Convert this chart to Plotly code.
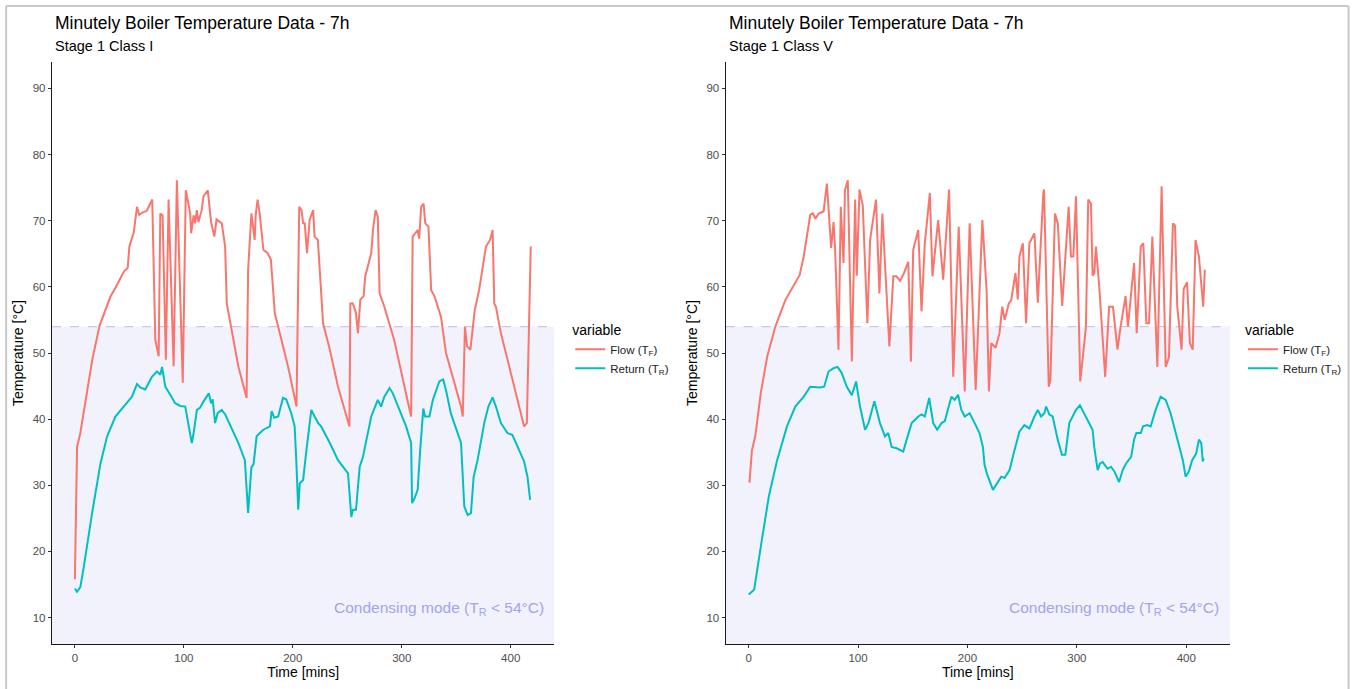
import plotly.graph_objects as go

# ---------------- data ----------------
# Panel 1: Stage 1 Class I
t_flow_1 = [0, 2, 5, 10, 16, 22.6, 32.6, 37, 45, 48.5, 50, 54, 57, 59, 61.6, 66, 71, 73.8, 76.9, 78.4, 80.5, 83.5, 86, 90.6, 93.6, 99, 101.8, 105.8, 106.7, 109, 110.4, 111.9, 113.4, 116.4, 118, 122, 124, 125, 128, 130, 134.8, 137.9, 139.4, 150, 157.6, 159, 162, 165, 166, 167.7, 169.6, 173, 176.9, 179.9, 183.5, 189.7, 195.6, 203.4, 205.9, 208, 209.5, 211, 213, 215.5, 218.7, 220, 223, 227.8, 234, 241.5, 252, 252.8, 255.2, 258, 259.8, 262, 265, 266.5, 272, 273.6, 276, 278, 279.7, 284, 293, 308.6, 310, 314.6, 316, 317.8, 320, 321.6, 324.5, 327, 330, 336, 340.6, 354.4, 356, 358, 360, 363, 365, 367, 371, 377.3, 381, 383.4, 384.9, 386.4, 391, 400, 412.3, 414.8, 416.9, 418.4]
flow_1 = [15.8, 35.8, 37.9, 42.9, 49, 54.1, 58.5, 59.8, 62.3, 62.9, 66.1, 68.2, 72.1, 70.9, 71.2, 71.5, 73.2, 52, 49.5, 71.1, 70.8, 49, 73.2, 48, 76.1, 45.5, 74.6, 71.1, 68.1, 70.8, 69.6, 71.6, 69.8, 71.6, 73.7, 74.6, 71.1, 69.8, 67.6, 70.2, 69.6, 66.1, 57.5, 48, 43.2, 62.6, 71.1, 67.1, 71, 73.2, 71.1, 65.6, 65.1, 64.1, 56, 52, 48, 41.9, 72.1, 71.6, 69.6, 69.6, 65.1, 70.2, 71.6, 67.6, 67.1, 54.5, 50.5, 44.9, 38.9, 57.5, 57.5, 56, 53, 58.1, 58.6, 61.6, 65.1, 68.6, 71.6, 70.6, 59, 57, 52, 40.4, 67.6, 68.6, 67.3, 72.1, 72.6, 69.6, 69.1, 59.5, 58.6, 55.5, 50, 41.9, 40.4, 54, 51, 50.5, 53.5, 56.5, 59.5, 66.1, 67.1, 68.6, 57.5, 57, 53, 47, 38.9, 39.4, 58, 66.1]

t_return_1 = [0, 2, 5, 8.2, 15.8, 23.5, 29.6, 37.2, 44.8, 52.4, 57, 60, 64.6, 70.7, 75.3, 78.4, 80, 83, 87.5, 92, 96.7, 101.3, 107.3, 109, 112, 114.8, 117.4, 121, 122.9, 125, 126.5, 128.7, 131, 134.8, 138, 150, 156, 159, 162, 164, 166.8, 169.8, 173, 179, 180.6, 183, 186.6, 191, 194, 198.6, 201.7, 203.2, 205, 206.4, 209.5, 212.5, 217, 220, 223.3, 226, 234, 241.5, 250.7, 253.7, 255.2, 258, 261.4, 264.4, 267.5, 272, 278, 281, 284, 288.8, 291.8, 299.4, 304, 308.6, 309.5, 311.6, 314.6, 317.1, 319.8, 321.4, 325.4, 328.5, 334.5, 338, 340.6, 345, 354.4, 357.4, 360.5, 363.5, 366, 369.6, 375.7, 379.5, 383.4, 386.4, 391, 397, 401.6, 407.7, 412.3, 415.4, 417.8]
return_1 = [14.4, 13.9, 14.6, 17.7, 25.8, 33.3, 37.4, 40.4, 41.9, 43.4, 45.3, 44.8, 44.5, 46.4, 47.2, 46.7, 47.9, 44.9, 43.7, 42.4, 42, 41.9, 36.4, 37.9, 41.4, 41.7, 42.5, 43.4, 43.9, 42.4, 43, 39.4, 40.9, 41.4, 40.7, 36.4, 33.8, 25.8, 32.7, 33.2, 37.4, 37.9, 38.4, 38.9, 41.2, 40.2, 40.4, 43.2, 43, 40.9, 38.9, 33.8, 26.3, 30.3, 30.8, 35.3, 41.4, 40.4, 39.4, 38.9, 36.4, 33.8, 31.8, 25.2, 26.3, 26.3, 32.8, 34.3, 36.9, 40.4, 42.9, 41.9, 43.4, 44.7, 43.9, 40.9, 38.9, 36.4, 27.3, 28, 29.3, 35.8, 41.6, 40.4, 40.4, 42.9, 45.7, 46, 44.4, 40.9, 36.4, 26.8, 25.5, 25.8, 31.3, 33.8, 39.4, 41.9, 43.3, 41.9, 39.4, 37.9, 37.6, 35.3, 33.6, 31.3, 27.8]

# Panel 2: Stage 1 Class V
t_flow_2 = [0.7, 3, 6, 11, 17, 24.4, 33.5, 39.6, 46.6, 50.3, 56.3, 58.7, 61, 64, 68.5, 71.5, 75.4, 77.6, 79, 82.1, 84.2, 86.7, 88, 90.6, 94.3, 97.3, 98.8, 101.3, 104.3, 108.5, 111, 116.4, 119.5, 122.2, 124.5, 128.6, 132.2, 135, 138.5, 142, 145.9, 148.3, 150.4, 155, 158, 161, 165.6, 168, 173.2, 177.8, 183.2, 187, 192, 197.5, 202, 207.5, 213.6, 217.5, 219.6, 221.8, 225.7, 229.3, 231.8, 234, 237.8, 240, 243.9, 246, 247.5, 250.6, 253.6, 256.6, 261.2, 264.3, 269.4, 270, 274.3, 275.8, 280, 282.6, 286.6, 292.5, 294.6, 296.8, 299.2, 303.1, 306.8, 308.3, 310.4, 312.9, 314.4, 316, 317.4, 320.4, 325.9, 329.5, 333, 337.1, 340, 344.5, 346.7, 352.3, 354.7, 358.4, 360.8, 363.5, 366, 369, 373.6, 377.5, 381.2, 384.2, 387.8, 389.7, 391.8, 395.7, 397.7, 400.8, 403.3, 405.9, 408.5, 411.6, 415.5, 417]
flow_2 = [30.4, 35.3, 37.4, 43.9, 49.5, 54, 58, 59.8, 61.8, 64.6, 70.9, 71.1, 70.3, 71.1, 71.4, 75.6, 65.9, 69.8, 65.7, 50.5, 72.1, 63.6, 74.6, 76.1, 48.7, 73.2, 61.7, 74.7, 72.3, 54.5, 67.1, 73.2, 59, 71.1, 63.1, 51, 61.6, 61.6, 60.9, 62.1, 63.8, 48.7, 65.6, 68.6, 56.3, 66.6, 74.2, 61.6, 70.1, 61.1, 74.7, 46.4, 69.1, 44.2, 69.6, 44.4, 70.1, 59.5, 44.2, 51.5, 50.8, 53, 57, 55, 57.5, 58, 62.1, 58.1, 64.6, 66.6, 54.5, 66.6, 68.1, 57.6, 74.4, 74.7, 44.9, 45.9, 71.1, 69.6, 57.1, 72.1, 64.6, 64.6, 73.7, 45.7, 51.5, 54, 73.2, 72.6, 61.7, 62.1, 66.1, 60.2, 46.4, 57, 57, 50.5, 54, 58.6, 54, 63.6, 53, 66.1, 66.6, 54.5, 54.5, 67.6, 47.9, 75.2, 47.9, 49.4, 69.6, 69.3, 57, 50.5, 59.7, 60.7, 51.5, 50.5, 67.1, 64.6, 57, 62.6]

t_return_2 = [0, 5, 12, 18.4, 26, 35, 42.6, 50.3, 56.3, 60.8, 65.3, 69, 73, 77.6, 81.2, 85, 89.7, 94.3, 98.2, 101.8, 106.4, 109.5, 114.9, 120, 124.6, 127.6, 130.7, 135.3, 141.3, 144.4, 149, 155, 158, 161, 165, 168.7, 172.3, 176.3, 179.3, 185.3, 188.3, 191.4, 194.4, 197.5, 202, 206.6, 211, 214.1, 215.6, 217.7, 220.2, 223.3, 226.3, 230.9, 233.9, 238.5, 243, 247.5, 252, 256.6, 261.2, 264.3, 267.3, 270.3, 271.9, 274.9, 277.9, 282.5, 286.4, 289.5, 293.1, 296.1, 299.2, 302.8, 306.8, 311.3, 314.4, 315.9, 319, 321.2, 323.6, 328.2, 331.2, 334.3, 338.6, 341.9, 345, 349.6, 352.3, 354.4, 358.4, 360.5, 364.4, 367.5, 372, 376.6, 381.2, 385.7, 389.6, 393.2, 396.9, 399.4, 402.4, 405.4, 409.1, 411.6, 413.7, 415.1, 416]
return_2 = [13.5, 14.2, 21.7, 28.3, 33.8, 38.9, 41.9, 43.4, 44.9, 44.8, 44.8, 44.9, 47.2, 47.7, 47.9, 47, 44.9, 43.6, 45.7, 41.9, 38.4, 39.4, 42.7, 39.4, 37.4, 37.9, 35.8, 35.6, 35.1, 36.9, 39.4, 40.4, 40.7, 40.4, 43.2, 39.4, 38.4, 39.4, 39.7, 43.4, 42.9, 43.7, 41.4, 40.4, 40.9, 39.4, 37.9, 35.8, 33.1, 31.8, 30.8, 29.3, 30.1, 31.3, 31.1, 32.3, 35.3, 38.1, 39.1, 38.6, 40.4, 41.4, 40.4, 40.9, 41.9, 40.7, 40.4, 36.9, 34.6, 34.6, 39.4, 40.4, 41.4, 42.1, 40.9, 39.4, 38.4, 35.8, 32.3, 33.3, 33.5, 32.5, 32.8, 32.1, 30.5, 32.3, 33.3, 34.3, 36.9, 37.9, 37.9, 38.9, 39.1, 38.9, 41.4, 43.4, 42.9, 40.9, 38.4, 36.4, 33.8, 31.3, 32.1, 33.8, 34.8, 36.9, 36.4, 33.6, 34.1]

x_ticks = [0, 100, 200, 300, 400]
y_ticks = [10, 20, 30, 40, 50, 60, 70, 80, 90]
condensing_threshold = 54
main_title = "Minutely Boiler Temperature Data - 7h"
subtitles = ["Stage 1 Class I", "Stage 1 Class V"]
series_names = ["Flow (T<sub>F</sub>)", "Return (T<sub>R</sub>)"]

# ---------------- styling ----------------
FONT = "Liberation Sans, Arial, sans-serif"
C_FLOW = "#F8766D"
C_RET = "#00BFC4"
W, H = 1359, 689
ML, MR, MT, MB = 52, 125, 62, 45
PW = W - ML - MR
PH = H - MT - MB


def px_x(p):
    return (p - ML) / PW


def px_y(p):
    return 1 - (p - MT) / PH


dom1 = [0, px_x(556)]
dom2 = [px_x(728), 1]

fig = go.Figure()

panels = [
    (t_flow_1, flow_1, t_return_1, return_1, "x", "y", "legend"),
    (t_flow_2, flow_2, t_return_2, return_2, "x2", "y2", "legend2"),
]
for tf, vf, tr, vr, xa, ya, lg in panels:
    fig.add_trace(go.Scatter(x=tf, y=vf, mode="lines", name=series_names[0],
                             line=dict(color=C_FLOW, width=2), xaxis=xa, yaxis=ya, legend=lg))
    fig.add_trace(go.Scatter(x=tr, y=vr, mode="lines", name=series_names[1],
                             line=dict(color=C_RET, width=2), xaxis=xa, yaxis=ya, legend=lg))

axis_common = dict(
    showgrid=False, zeroline=False, showline=True, linecolor="#1a1a1a", linewidth=1.4,
    ticks="outside", ticklen=3, tickwidth=1, tickcolor="#333333",
    tickfont=dict(family=FONT, size=11.5, color="#4d4d4d"),
)
xcommon = dict(axis_common, range=[-21, 440], tickvals=x_ticks,
               title=dict(text="Time [mins]", font=dict(family=FONT, size=14, color="#000"), standoff=1))
ycommon = dict(axis_common, range=[6, 94], tickvals=y_ticks,
               title=dict(text="Temperature [°C]", font=dict(family=FONT, size=14, color="#000"), standoff=5))

fig.update_layout(
    xaxis=dict(xcommon, domain=dom1, anchor="y"),
    yaxis=dict(ycommon, anchor="x"),
    xaxis2=dict(xcommon, domain=dom2, anchor="y2"),
    yaxis2=dict(ycommon, anchor="x2"),
)

shapes = []
annotations = []
for i, (xa, ya) in enumerate([("x", "y"), ("x2", "y2")]):
    shapes.append(dict(type="rect", xref=f"{xa} domain", yref=ya, x0=0, x1=1, y0=6, y1=condensing_threshold,
                       fillcolor="rgba(230,230,250,0.5)", line=dict(width=0), layer="below"))
    shapes.append(dict(type="line", xref=f"{xa} domain", yref=ya, x0=0, x1=1,
                       y0=condensing_threshold, y1=condensing_threshold,
                       line=dict(color="#c9c9e6", width=1.2, dash="dash"), layer="below"))
    annotations.append(dict(xref=xa, yref=ya, x=432, y=11.3, xanchor="right", yanchor="middle",
                            text=f"Condensing mode (T<sub>R</sub> &lt; {condensing_threshold}°C)",
                            showarrow=False, font=dict(family=FONT, size=15.5, color="#a3a3ee")))

left_px = [53, 729]
for i in range(2):
    annotations.append(dict(xref="paper", yref="paper", x=px_x(left_px[i]), y=px_y(23),
                            xanchor="left", yanchor="middle", text=main_title, showarrow=False,
                            font=dict(family=FONT, size=17.5, color="#000")))
    annotations.append(dict(xref="paper", yref="paper", x=px_x(left_px[i]), y=px_y(46),
                            xanchor="left", yanchor="middle", text=subtitles[i], showarrow=False,
                            font=dict(family=FONT, size=14.5, color="#000")))

# outer grey frame
for (x0, y0, x1, y1) in [(6, 6, 6, 700), (6, 6, 1353, 6), (1353, 6, 1353, 700)]:
    shapes.append(dict(type="line", xref="paper", yref="paper", x0=px_x(x0), x1=px_x(x1),
                       y0=px_y(y0), y1=px_y(y1), line=dict(color="#c8c8c8", width=2)))

legend_common = dict(
    title=dict(text="variable", font=dict(family=FONT, size=14, color="#000")),
    font=dict(family=FONT, size=11.5, color="#222"),
    bgcolor="rgba(0,0,0,0)", yanchor="middle", xanchor="left", itemwidth=30,
    tracegroupgap=2,
)
fig.update_layout(
    legend=dict(legend_common, x=px_x(572), y=px_y(350)),
    legend2=dict(legend_common, x=px_x(1247), y=px_y(350)),
    shapes=shapes, annotations=annotations,
    width=W, height=H, margin=dict(l=ML, r=MR, t=MT, b=MB),
    paper_bgcolor="white", plot_bgcolor="white", showlegend=True,
)

fig.write_html("out.html")
